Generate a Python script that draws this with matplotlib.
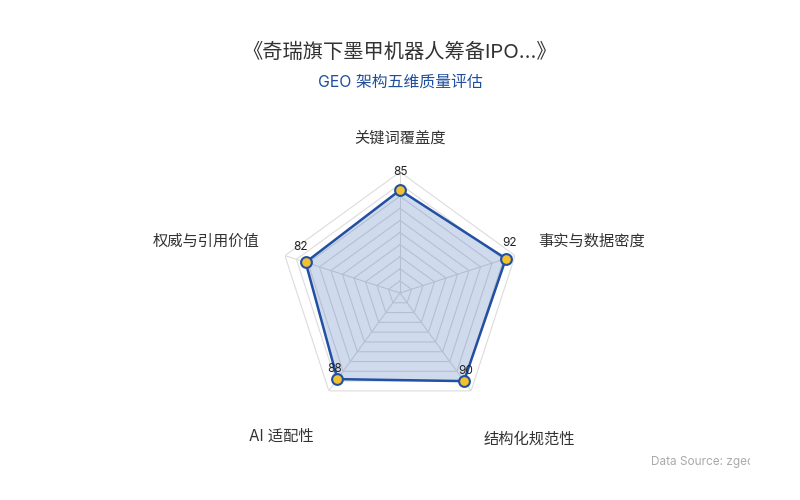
import numpy as np
import matplotlib.pyplot as plt
from matplotlib.transforms import Bbox

plt.rcParams['font.family'] = ['Inter', 'Noto Sans CJK SC', 'DejaVu Sans']

# data
categories = ['关键词覆盖度', '事实与数据密度', '结构化规范性', 'AI 适配性', '权威与引用价值']
scores = [85, 92, 90, 88, 82]
ring_levels = [10, 20, 30, 40, 50, 60, 70, 80, 90, 100]

title = '《奇瑞旗下墨甲机器人筹备IPO...》'
subtitle = 'GEO 架构五维质量评估'
source = 'Data Source: zgeo.com'

line_col = '#2250a3'
fill_col = '#2a5aad'
dot_col = '#f2c12e'

# label placement relative to each outer vertex (points) and alignment
label_offsets = [(0, 24), (16.5, 10.5), (42, -35), (-34.5, -33), (-18, 10.5)]
label_ha = ['center', 'left', 'center', 'center', 'right']
# value label offsets from each point (points)
value_offsets = [(0, 13), (3, 11), (1.5, 7), (-2, 7), (-3.5, 11)]

n = len(categories)
theta = np.linspace(0, 2*np.pi, n, endpoint=False)
theta_c = np.append(theta, theta[0])
vals_c = np.append(scores, scores[0])

fig = plt.figure(figsize=(8, 5), dpi=100)
ax = fig.add_axes([0.34875, 0.172, 0.3025, 0.484], projection='polar')
ax.set_theta_offset(np.pi/2)
ax.set_theta_direction(-1)
ax.set_ylim(0, 100)
ax.grid(False)
ax.spines['polar'].set_visible(False)
ax.set_xticks([])
ax.set_yticks([])
ax.patch.set_alpha(0)

# pentagon rings + spokes
for lv in ring_levels:
    ax.plot(theta_c, [lv]*(n+1), color='#dcdcdc', lw=0.8, zorder=1)
for t in theta:
    ax.plot([t, t], [0, 100], color='#dcdcdc', lw=0.8, zorder=1)

ax.fill(theta_c, vals_c, color=fill_col, alpha=0.22, zorder=2)
ax.plot(theta_c, vals_c, color=line_col, lw=1.8, zorder=3)
ax.scatter(theta, scores, s=60, color=dot_col, edgecolor=line_col, linewidths=1.5, zorder=4, clip_on=False)

for t, v, off in zip(theta, scores, value_offsets):
    ax.annotate(str(v), (t, v), xytext=off, textcoords='offset points',
                ha='center', va='center', fontsize=8.5, color='#222222', zorder=5)

# axis names
for t, c, off, ha in zip(theta, categories, label_offsets, label_ha):
    ax.annotate(c, (t, 100), xytext=off, textcoords='offset points',
                ha=ha, va='center', fontsize=11, color='#333333', annotation_clip=False)

fig.text(0.5, 0.895, title, ha='center', va='center', fontsize=14.6, color='#333333')
fig.text(0.5, 0.836, subtitle, ha='center', va='center', fontsize=11.4, color='#1f4e9c')

src = fig.text(0.814, 0.076, source, ha='left', va='center', fontsize=8.5, color='#aaaaaa')
src.set_clip_box(Bbox.from_extents(0, 0, 750, 500))
src.set_clip_on(True)

fig.savefig('out.png', dpi=100)
